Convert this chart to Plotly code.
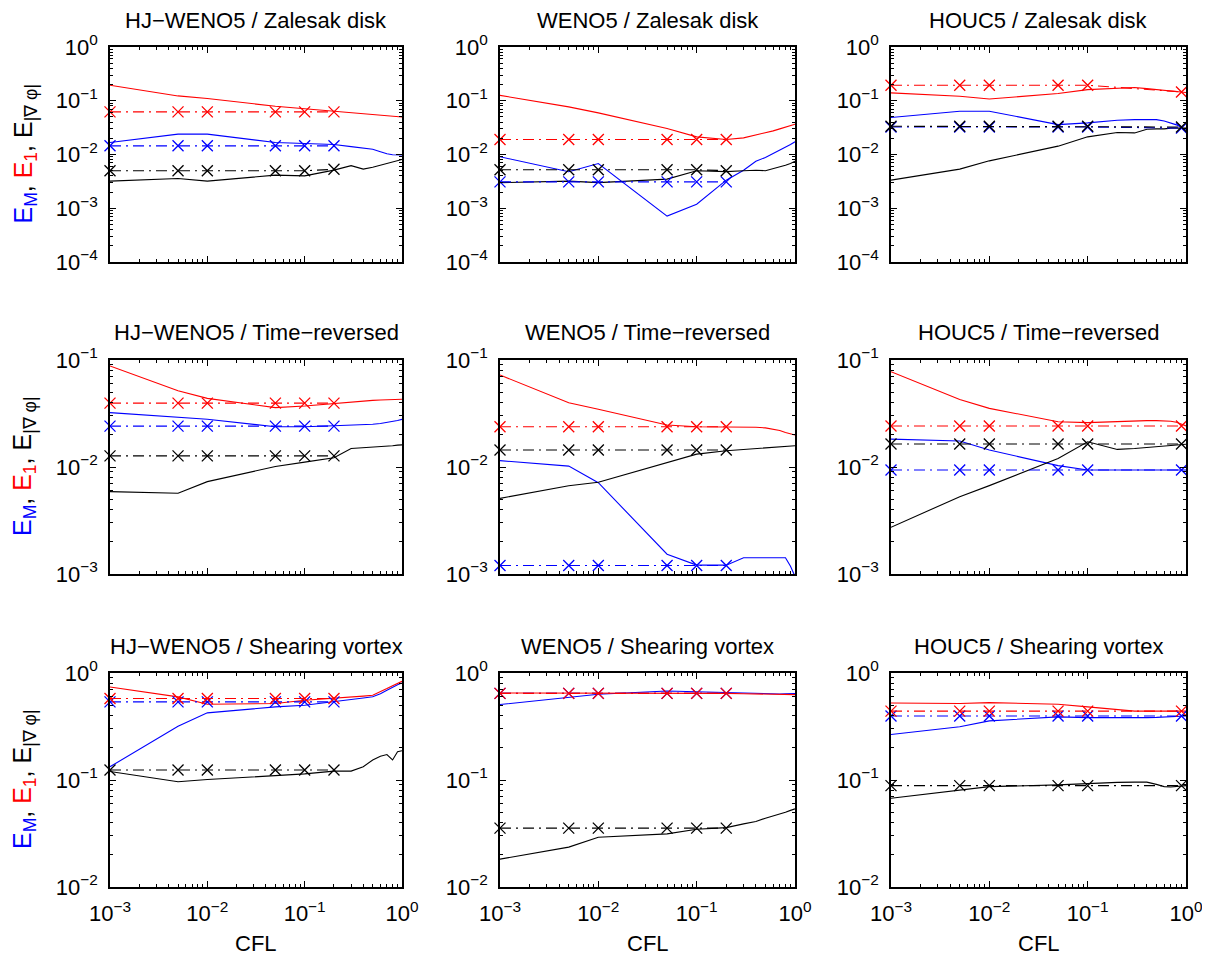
import plotly.graph_objects as go
from plotly.subplots import make_subplots

# ---------------- data ----------------
cfl = [0.001, 0.005, 0.01, 0.05, 0.1, 0.2, 0.3, 0.4, 0.5, 0.6, 0.7, 0.8, 0.9, 1.0]
cfl_ref_weno = [0.001, 0.005, 0.01, 0.05, 0.1, 0.2]
cfl_ref_houc = [0.001, 0.005, 0.01, 0.05, 0.1, 0.9]

x_tick_vals = [0.001, 0.01, 0.1, 1.0]
x_tick_text = ["10<sup>−3</sup>", "10<sup>−2</sup>", "10<sup>−1</sup>", "10<sup>0</sup>"]

row_titles_method = ["HJ−WENO5", "WENO5", "HOUC5"]
row_titles_case = ["Zalesak disk", "Time−reversed", "Shearing vortex"]

# HJ-WENO5 / Zalesak disk
hj_zal_EM = [0.0167, 0.0239, 0.0239, 0.0167, 0.016, 0.0153, 0.014, 0.0133, 0.0125, 0.0113, 0.0103, 0.0099, 0.0098, 0.0098]
hj_zal_E1 = [0.194, 0.123, 0.11, 0.079, 0.071, 0.064, 0.061, 0.058, 0.056, 0.054, 0.053, 0.052, 0.051, 0.050]
hj_zal_Eg = [0.0032, 0.00358, 0.0032, 0.00413, 0.0040, 0.00512, 0.0062, 0.00534, 0.0058, 0.0063, 0.0068, 0.0073, 0.0077, 0.0081]
hj_zal_EM_ref = [0.0145, 0.0145, 0.0145, 0.0145, 0.0145, 0.0145]
hj_zal_E1_ref = [0.062, 0.062, 0.062, 0.062, 0.062, 0.062]
hj_zal_Eg_ref = [0.005, 0.005, 0.005, 0.005, 0.005, 0.0053]

# WENO5 / Zalesak disk
we_zal_EM = [0.00906, 0.00477, 0.0068, 0.000715, 0.00119, 0.00333, 0.0051, 0.0075, 0.0088, 0.0104, 0.0118, 0.0137, 0.0153, 0.0172]
we_zal_E1 = [0.126, 0.0768, 0.0594, 0.0304, 0.0213, 0.019, 0.0204, 0.0229, 0.0252, 0.0275, 0.030, 0.0322, 0.0346, 0.0366]
we_zal_Eg = [0.0030, 0.0032, 0.0030, 0.00348, 0.00497, 0.0048, 0.0050, 0.0051, 0.0050, 0.0054, 0.0059, 0.0063, 0.0068, 0.0075]
we_zal_EM_ref = [0.0031, 0.0031, 0.0031, 0.0031, 0.0031, 0.0031]
we_zal_E1_ref = [0.019, 0.019, 0.019, 0.019, 0.019, 0.019]
we_zal_Eg_ref = [0.0052, 0.0052, 0.0052, 0.0052, 0.0052, 0.0050]

# HOUC5 / Zalesak disk
ho_zal_EM = [0.0487, 0.0638, 0.0638, 0.036, 0.0387, 0.0435, 0.0446, 0.0446, 0.0446, 0.042, 0.039, 0.0356, 0.0317, 0.0283]
ho_zal_E1 = [0.14, 0.121, 0.108, 0.136, 0.161, 0.173, 0.176, 0.168, 0.161, 0.157, 0.152, 0.15, 0.146, 0.142]
ho_zal_Eg = [0.00334, 0.00534, 0.00762, 0.0143, 0.0213, 0.0256, 0.0252, 0.0295, 0.030, 0.030, 0.031, 0.031, 0.031, 0.031]
ho_zal_EM_ref = [0.0325, 0.0325, 0.0325, 0.0325, 0.0325, 0.031]
ho_zal_E1_ref = [0.194, 0.194, 0.194, 0.194, 0.194, 0.146]
ho_zal_Eg_ref = [0.0335, 0.0335, 0.0335, 0.0335, 0.0335, 0.0325]

# HJ-WENO5 / Time-reversed
hj_tr_EM = [0.0322, 0.0289, 0.0279, 0.0238, 0.0238, 0.0243, 0.0245, 0.0248, 0.0251, 0.0255, 0.026, 0.0266, 0.0272, 0.0279]
hj_tr_E1 = [0.0879, 0.0517, 0.0438, 0.0359, 0.0372, 0.0394, 0.0408, 0.0414, 0.0419, 0.0423, 0.0426, 0.0428, 0.0429, 0.043]
hj_tr_Eg = [0.00589, 0.00568, 0.0073, 0.0101, 0.0111, 0.0122, 0.0149, 0.0151, 0.0153, 0.0155, 0.0157, 0.0158, 0.016, 0.0161]
hj_tr_EM_ref = [0.0241, 0.0241, 0.0241, 0.0241, 0.0241, 0.0241]
hj_tr_E1_ref = [0.0395, 0.0395, 0.0395, 0.0395, 0.0395, 0.0395]
hj_tr_Eg_ref = [0.0127, 0.0127, 0.0127, 0.0127, 0.0127, 0.0127]

# WENO5 / Time-reversed
we_tr_EM = [0.01146, 0.0102, 0.00714, 0.00153, 0.00121, 0.00121, 0.00142, 0.00142, 0.00142, 0.00142, 0.00142, 0.00142, 0.00118, 0.00095]
we_tr_E1 = [0.0724, 0.0399, 0.0346, 0.0247, 0.0238, 0.0238, 0.0237, 0.0235, 0.0232, 0.0226, 0.0219, 0.021, 0.0203, 0.0199]
we_tr_Eg = [0.00509, 0.00669, 0.00719, 0.0111, 0.0132, 0.0142, 0.0146, 0.0149, 0.0151, 0.0153, 0.0154, 0.0155, 0.0157, 0.0158]
we_tr_EM_ref = [0.0012, 0.0012, 0.0012, 0.0012, 0.0012, 0.0012]
we_tr_E1_ref = [0.0238, 0.0238, 0.0238, 0.0238, 0.0238, 0.0238]
we_tr_Eg_ref = [0.0144, 0.0144, 0.0144, 0.0144, 0.0144, 0.0144]

# HOUC5 / Time-reversed
ho_tr_EM = [0.0182, 0.0175, 0.0144, 0.0103, 0.00937, 0.00937, 0.00937, 0.00937, 0.00937, 0.00937, 0.00937, 0.00937, 0.00937, 0.00937]
ho_tr_E1 = [0.0778, 0.0428, 0.0353, 0.0265, 0.026, 0.0267, 0.027, 0.0271, 0.0271, 0.027, 0.0268, 0.0262, 0.0252, 0.0242]
ho_tr_Eg = [0.00273, 0.00528, 0.0067, 0.012, 0.0172, 0.0146, 0.0149, 0.0152, 0.0155, 0.0157, 0.0159, 0.016, 0.0162, 0.0163]
ho_tr_EM_ref = [0.00937, 0.00937, 0.00937, 0.00937, 0.00937, 0.00937]
ho_tr_E1_ref = [0.0242, 0.0242, 0.0242, 0.0242, 0.0242, 0.0242]
ho_tr_Eg_ref = [0.0164, 0.0164, 0.0164, 0.0164, 0.0164, 0.0164]

# HJ-WENO5 / Shearing vortex
hj_sv_EM = [0.133, 0.318, 0.424, 0.482, 0.500, 0.537, 0.565, 0.583, 0.60, 0.64, 0.69, 0.74, 0.775, 0.807]
hj_sv_E1 = [0.741, 0.598, 0.511, 0.518, 0.556, 0.577, 0.598, 0.608, 0.619, 0.665, 0.715, 0.76, 0.80, 0.836]
hj_sv_Eg = [0.120, 0.0964, 0.101, 0.111, 0.114, 0.121, 0.121, 0.133, 0.154, 0.167, 0.173, 0.154, 0.184, 0.188]
hj_sv_EM_ref = [0.537, 0.537, 0.537, 0.537, 0.537, 0.537]
hj_sv_E1_ref = [0.577, 0.577, 0.577, 0.577, 0.577, 0.577]
hj_sv_Eg_ref = [0.124, 0.124, 0.124, 0.124, 0.124, 0.124]

# WENO5 / Shearing vortex
we_sv_EM = [0.507, 0.589, 0.633, 0.679, 0.665, 0.651, 0.645, 0.638, 0.635, 0.635, 0.637, 0.638, 0.64, 0.642]
we_sv_E1 = [0.651, 0.651, 0.651, 0.651, 0.651, 0.645, 0.64, 0.635, 0.63, 0.628, 0.628, 0.628, 0.628, 0.628]
we_sv_Eg = [0.0182, 0.0236, 0.0292, 0.0314, 0.0347, 0.0359, 0.0389, 0.0409, 0.044, 0.046, 0.048, 0.050, 0.052, 0.0537]
we_sv_EM_ref = [0.645, 0.645, 0.645, 0.645, 0.645, 0.645]
we_sv_E1_ref = [0.645, 0.645, 0.645, 0.645, 0.645, 0.645]
we_sv_Eg_ref = [0.0355, 0.0355, 0.0355, 0.0355, 0.0355, 0.0355]

# HOUC5 / Shearing vortex
ho_sv_EM = [0.266, 0.314, 0.357, 0.389, 0.383, 0.38, 0.381, 0.383, 0.385, 0.388, 0.39, 0.393, 0.395, 0.397]
ho_sv_E1 = [0.525, 0.518, 0.529, 0.511, 0.482, 0.455, 0.44, 0.44, 0.44, 0.44, 0.44, 0.44, 0.44, 0.44]
ho_sv_Eg = [0.0675, 0.0796, 0.0867, 0.090, 0.093, 0.095, 0.0955, 0.0955, 0.091, 0.0867, 0.086, 0.087, 0.088, 0.0886]
ho_sv_EM_ref = [0.397, 0.397, 0.397, 0.397, 0.397, 0.397]
ho_sv_E1_ref = [0.44, 0.44, 0.44, 0.44, 0.44, 0.44]
ho_sv_Eg_ref = [0.0886, 0.0886, 0.0886, 0.0886, 0.0886, 0.0886]

panels = [
    [(hj_zal_EM, hj_zal_E1, hj_zal_Eg, hj_zal_EM_ref, hj_zal_E1_ref, hj_zal_Eg_ref, cfl_ref_weno),
     (we_zal_EM, we_zal_E1, we_zal_Eg, we_zal_EM_ref, we_zal_E1_ref, we_zal_Eg_ref, cfl_ref_weno),
     (ho_zal_EM, ho_zal_E1, ho_zal_Eg, ho_zal_EM_ref, ho_zal_E1_ref, ho_zal_Eg_ref, cfl_ref_houc)],
    [(hj_tr_EM, hj_tr_E1, hj_tr_Eg, hj_tr_EM_ref, hj_tr_E1_ref, hj_tr_Eg_ref, cfl_ref_weno),
     (we_tr_EM, we_tr_E1, we_tr_Eg, we_tr_EM_ref, we_tr_E1_ref, we_tr_Eg_ref, cfl_ref_weno),
     (ho_tr_EM, ho_tr_E1, ho_tr_Eg, ho_tr_EM_ref, ho_tr_E1_ref, ho_tr_Eg_ref, cfl_ref_houc)],
    [(hj_sv_EM, hj_sv_E1, hj_sv_Eg, hj_sv_EM_ref, hj_sv_E1_ref, hj_sv_Eg_ref, cfl_ref_weno),
     (we_sv_EM, we_sv_E1, we_sv_Eg, we_sv_EM_ref, we_sv_E1_ref, we_sv_Eg_ref, cfl_ref_weno),
     (ho_sv_EM, ho_sv_E1, ho_sv_Eg, ho_sv_EM_ref, ho_sv_E1_ref, ho_sv_Eg_ref, cfl_ref_houc)],
]

row_decades = [(-4, 0), (-3, -1), (-2, 0)]

# ---------------- layout geometry (pixels in the 1210x958 window) ----------------
OFF = 8                      # page body margin
W, H = 1210 - OFF, 958 - OFF  # figure size so that it fits the window
col_px = [(110, 402), (500, 795), (891, 1186)]
row_px = [(47, 262), (360, 574), (673, 887)]
title_y_px = [21, 333, 646]

FONT = "Liberation Sans, Arial, Helvetica, sans-serif"
BLUE, RED, BLACK = "#0000ff", "#ff0000", "#000000"
DASHDOT = "11px,5px,2px,5px"

fig = make_subplots(rows=3, cols=3)

def px_x(p):
    return (p - OFF) / W

def px_y(p):
    return 1 - (p - OFF) / H

for r in range(3):
    lo, hi = row_decades[r]
    ytv = [10.0 ** d for d in range(lo, hi + 1)]
    ytt = ["10<sup>" + ("−" + str(-d) if d < 0 else str(d)) + "</sup>" for d in range(lo, hi + 1)]
    yminor = [k * 10.0 ** d for d in range(lo, hi) for k in range(2, 10)]
    for c in range(3):
        EM, E1, Eg, EMr, E1r, Egr, xr = panels[r][c]
        for vals, col in ((EM, BLUE), (E1, RED), (Eg, BLACK)):
            fig.add_trace(go.Scatter(x=cfl, y=vals, mode="lines",
                                     line=dict(color=col, width=1.1),
                                     showlegend=False), row=r + 1, col=c + 1)
        for vals, col in ((EMr, BLUE), (E1r, RED), (Egr, BLACK)):
            fig.add_trace(go.Scatter(x=xr, y=vals, mode="lines+markers",
                                     line=dict(color=col, width=1.1, dash=DASHDOT),
                                     marker=dict(symbol="x-thin", size=11,
                                                 line=dict(color=col, width=1.3)),
                                     cliponaxis=False, showlegend=False),
                          row=r + 1, col=c + 1)
        x0, x1 = col_px[c]
        y0, y1 = row_px[r]
        xminor = [k * 10.0 ** d for d in range(-3, 0) for k in range(2, 10)]
        fig.update_xaxes(type="log", range=[-3, 0], domain=[px_x(x0), px_x(x1)],
                         automargin=False,
                         showgrid=False, zeroline=False, showline=True,
                         linecolor="black", linewidth=1.6, mirror="allticks",
                         ticks="inside", ticklen=6, tickwidth=1, tickcolor="black",
                         tickmode="array", tickvals=x_tick_vals, ticktext=x_tick_text,
                         showticklabels=(r == 2), ticklabelstandoff=6,
                         tickfont=dict(family=FONT, size=22, color="black"),
                         minor=dict(ticks="inside", ticklen=3, tickwidth=1, tickcolor="black",
                                    tickmode="array", tickvals=xminor, showgrid=False),
                         row=r + 1, col=c + 1)
        fig.update_yaxes(type="log", range=[lo, hi], domain=[px_y(y1), px_y(y0)],
                         automargin=False,
                         showgrid=False, zeroline=False, showline=True,
                         linecolor="black", linewidth=1.6, mirror="allticks",
                         ticks="inside", ticklen=6, tickwidth=1, tickcolor="black",
                         tickmode="array", tickvals=ytv, ticktext=ytt,
                         ticklabelstandoff=6,
                         tickfont=dict(family=FONT, size=22, color="black"),
                         minor=dict(ticks="inside", ticklen=3, tickwidth=1, tickcolor="black",
                                    tickmode="array", tickvals=yminor, showgrid=False),
                         row=r + 1, col=c + 1)
        # panel title
        fig.add_annotation(text=row_titles_method[c] + " / " + row_titles_case[r],
                           x=px_x((x0 + x1) / 2), y=px_y(title_y_px[r]),
                           xref="paper", yref="paper", xanchor="center", yanchor="middle",
                           showarrow=False, font=dict(family=FONT, size=22, color="black"))
    # y label on left column
    y0, y1 = row_px[r]
    fig.add_annotation(
        text='<span style="color:#0000ff">E<sub>M</sub></span>, '
             '<span style="color:#ff0000">E<sub>1</sub></span>, E<sub>|∇ φ|</sub>',
        x=px_x(24), y=px_y((y0 + y1) / 2), xref="paper", yref="paper",
        xanchor="center", yanchor="middle", textangle=-90, showarrow=False,
        font=dict(family=FONT, size=25, color="black"))

# x label on bottom row
for c in range(3):
    x0, x1 = col_px[c]
    fig.add_annotation(text="CFL", x=px_x((x0 + x1) / 2), y=px_y(943),
                       xref="paper", yref="paper", xanchor="center", yanchor="middle",
                       showarrow=False, font=dict(family=FONT, size=22, color="black"))

fig.update_layout(width=W, height=H, margin=dict(l=0, r=0, t=0, b=0, pad=0),
                  paper_bgcolor="white", plot_bgcolor="white", showlegend=False)

fig.write_html("out.html")
